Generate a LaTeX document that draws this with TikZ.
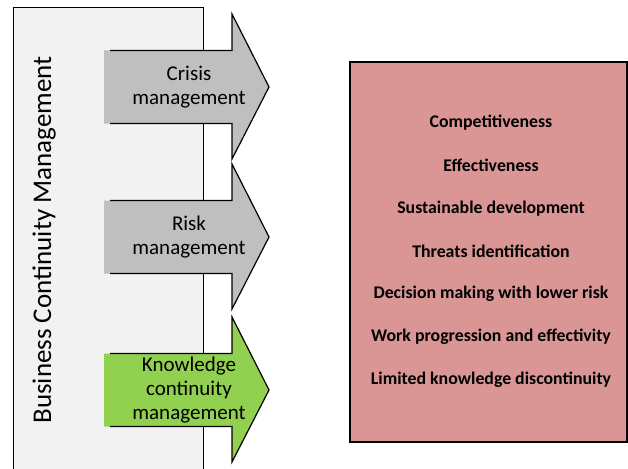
\documentclass[tikz,border=0pt]{standalone}
\usepackage{fontspec}
\setmainfont{Carlito}
\usetikzlibrary{calc}
\definecolor{panelgray}{HTML}{F2F2F2}
\definecolor{arrowgray}{HTML}{BFBFBF}
\definecolor{arrowgreen}{HTML}{92D050}
\definecolor{boxred}{HTML}{D99694}
\tikzset{
    arrowline/.style={line width=1.2pt, line join=miter},
    arrowtext/.style={align=center, font=\fontsize{21}{24}\selectfont, inner sep=0pt},
    itemtext/.style={font=\fontsize{17.8}{20}\selectfont\bfseries, inner sep=0pt},
}
\newcommand{\mgmtarrow}[4]{
    \pgfmathsetmacro{\ty}{#1}
    \fill[#2] (104, \ty - 36.5) -- (232, \ty - 36.5) -- (232, \ty - 73) -- (269, \ty)
        -- (232, \ty + 72) -- (232, \ty + 36.5) -- (104, \ty + 36.5) -- cycle;
    \draw[arrowline] (110, \ty - 36.5) -- (232, \ty - 36.5) -- (232, \ty - 73) -- (269, \ty)
        -- (232, \ty + 72) -- (232, \ty + 36.5) -- (110, \ty + 36.5);
    \node[arrowtext] (#3) at (189, \ty) {#4};
}
\begin{document}
\begin{tikzpicture}[x=1pt, y=-1pt]
                \clip (0, 0) rectangle (628, 468);
                \fill[white] (0, 0) rectangle (628, 468);
                \draw[fill=panelgray, line width=0.8pt] (13, 480) -- (13, 7) -- (203, 7) -- (203, 480);
                \node[rotate=90, font=\fontsize{27}{30}\selectfont, inner sep=0pt] (bcm) at (44, 240) {Business Continuity Management};
                \mgmtarrow{87}{arrowgray}{crisis}{Crisis\\management}
                \mgmtarrow{237}{arrowgray}{risk}{Risk\\management}
                \mgmtarrow{390}{arrowgreen}{knowledge}{Knowledge\\continuity\\management}
                \draw[fill=boxred, line width=1.2pt] (350, 62) rectangle (627, 442);
                \foreach \i/\t in {1/Competitiveness, 2/Effectiveness, 3/Sustainable development,
                    4/Threats identification, 5/Decision making with lower risk,
                    6/Work progression and effectivity, 7/Limited knowledge discontinuity} {
                    \node[itemtext] (item\i) at (491, {123 + (\i - 1) * 42.8}) {\t};
                }
            \end{tikzpicture}
\end{document}
